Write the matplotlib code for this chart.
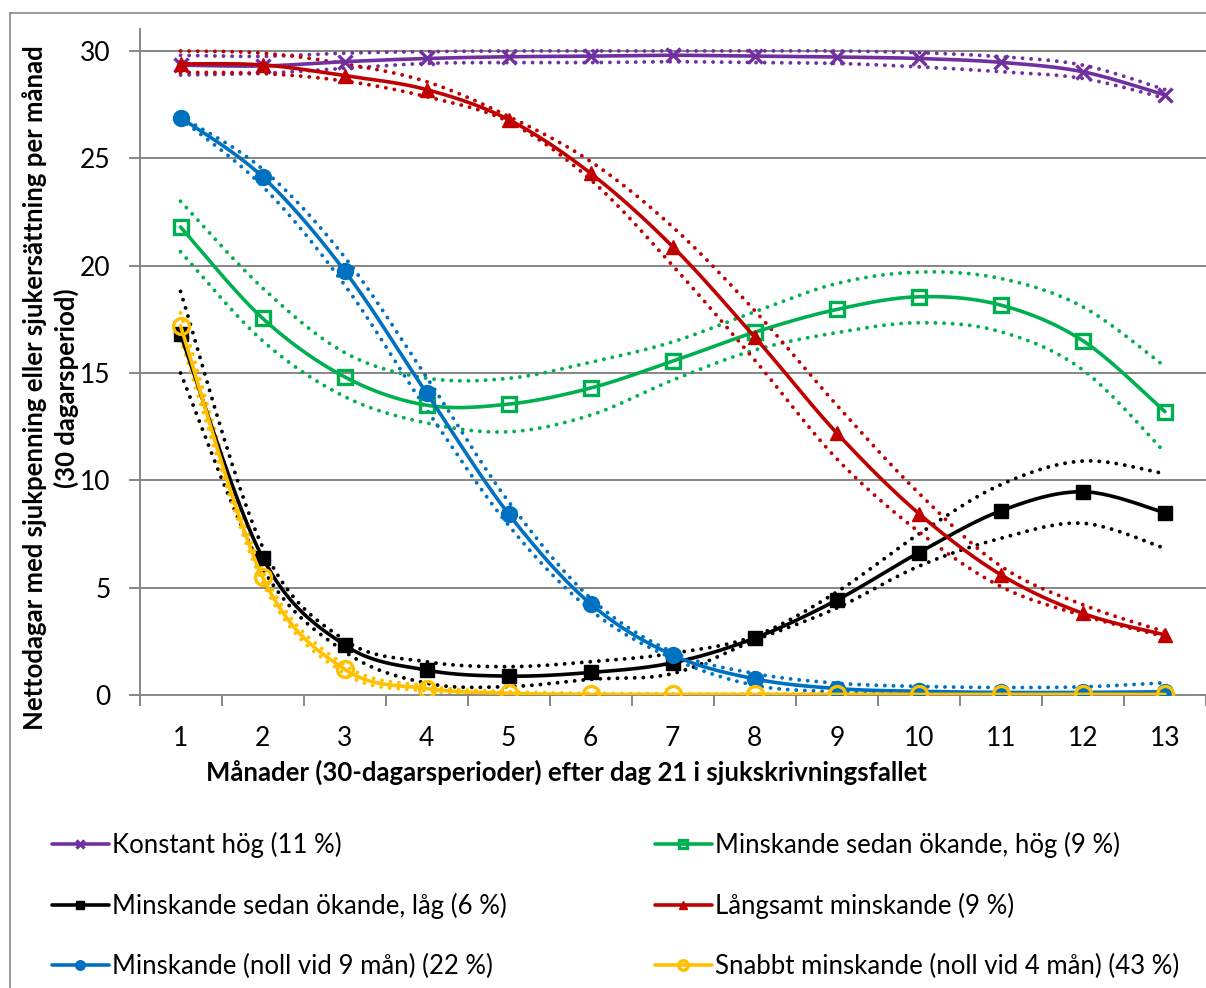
import numpy as np
import matplotlib
matplotlib.use("Agg")
import matplotlib.pyplot as plt
from matplotlib.lines import Line2D

plt.rcParams['font.family'] = ['Lato', 'DejaVu Sans']

months = list(range(1, 14))
month_labels = [str(m) for m in months]

labels = [
    "Konstant hög (11 %)",
    "Minskande sedan ökande, hög (9 %)",
    "Minskande sedan ökande, låg (6 %)",
    "Långsamt minskande (9 %)",
    "Minskande (noll vid 9 mån) (22 %)",
    "Snabbt minskande (noll vid 4 mån) (43 %)",
]

konstant = [29.34, 29.3, 29.5, 29.65, 29.73, 29.76, 29.8, 29.76, 29.72, 29.65, 29.47, 29.03, 27.95]
konstant_up = [29.8, 29.75, 29.9, 29.97, 30.0, 30.0, 30.0, 30.0, 30.0, 29.92, 29.73, 29.34, 28.2]
konstant_lo = [28.88, 28.96, 29.19, 29.42, 29.46, 29.46, 29.5, 29.46, 29.42, 29.26, 29.03, 28.72, 27.8]

okande_hog = [21.8, 17.55, 14.82, 13.5, 13.55, 14.3, 15.55, 16.9, 17.96, 18.55, 18.16, 16.5, 13.2]
okande_hog_up = [23.0, 18.96, 15.95, 14.76, 14.75, 15.5, 16.45, 17.85, 19.17, 19.7, 19.4, 18.08, 15.3]
okande_hog_lo = [20.65, 16.5, 13.9, 12.67, 12.26, 13.04, 14.67, 16.07, 16.88, 17.34, 16.92, 15.14, 11.3]

okande_lag = [16.8, 6.4, 2.33, 1.16, 0.88, 1.05, 1.5, 2.65, 4.42, 6.63, 8.58, 9.47, 8.49]
okande_lag_up = [18.8, 6.9, 2.56, 1.55, 1.32, 1.55, 1.94, 2.75, 4.8, 7.5, 9.8, 10.9, 10.3]
okande_lag_lo = [15.0, 5.9, 2.02, 0.55, 0.39, 0.73, 1.0, 2.55, 4.05, 6.0, 7.3, 8.0, 6.83]

langsamt = [29.4, 29.35, 28.85, 28.2, 26.8, 24.3, 20.88, 16.67, 12.2, 8.45, 5.6, 3.8, 2.8]
langsamt_up = [30.0, 29.9, 29.4, 28.57, 26.95, 24.85, 21.8, 17.9, 13.5, 9.4, 6.0, 4.2, 2.95]
langsamt_lo = [29.0, 28.95, 28.6, 27.87, 26.7, 24.0, 20.0, 15.6, 11.0, 7.6, 5.05, 3.7, 2.72]

minsk9 = [26.9, 24.14, 19.76, 14.06, 8.43, 4.24, 1.86, 0.75, 0.3, 0.17, 0.12, 0.12, 0.15]
minsk9_up = [26.95, 24.5, 20.4, 14.8, 9.0, 4.5, 2.0, 1.0, 0.55, 0.4, 0.35, 0.38, 0.57]
minsk9_lo = [26.85, 23.7, 19.1, 13.3, 7.9, 3.95, 1.7, 0.45, 0.15, 0.05, 0.03, 0.03, 0.0]

snabbt = [17.2, 5.5, 1.2, 0.3, 0.08, 0.03, 0.03, 0.03, 0.03, 0.03, 0.03, 0.03, 0.03]
snabbt_up = [17.8, 5.8, 1.4, 0.42, 0.15, 0.08, 0.06, 0.06, 0.06, 0.06, 0.06, 0.06, 0.06]
snabbt_lo = [16.6, 5.25, 1.0, 0.2, 0.03, 0.0, 0.0, 0.0, 0.0, 0.0, 0.0, 0.0, 0.0]

series = [
    (konstant, konstant_up, konstant_lo, '#7030A0', 'x', 10, 'full'),
    (okande_hog, okande_hog_up, okande_hog_lo, '#00B050', 's', 10, 'none'),
    (okande_lag, okande_lag_up, okande_lag_lo, '#000000', 's', 9.5, 'full'),
    (langsamt, langsamt_up, langsamt_lo, '#C00000', '^', 10.5, 'full'),
    (minsk9, minsk9_up, minsk9_lo, '#0070C0', 'o', 11.5, 'full'),
    (snabbt, snabbt_up, snabbt_lo, '#FFC000', 'o', 11.5, 'none'),
]

N = 24


def smooth(x, y, n=N):
    """Excel-style smoothed line (Bezier through the points)."""
    pts = np.column_stack([x, y]).astype(float)
    P = np.vstack([pts[0], pts, pts[-1]])
    out = []
    for i in range(len(pts) - 1):
        p0, p1, p2, p3 = P[i], P[i + 1], P[i + 2], P[i + 3]
        c1 = p1 + (p2 - p0) / 6.0
        c2 = p2 - (p3 - p1) / 6.0
        last = (i == len(pts) - 2)
        t = np.linspace(0, 1, n + 1 if last else n, endpoint=last)[:, None]
        b = (1 - t) ** 3 * p1 + 3 * (1 - t) ** 2 * t * c1 + 3 * (1 - t) * t ** 2 * c2 + t ** 3 * p2
        out.append(b)
    s = np.vstack(out)
    return s[:, 0], s[:, 1]


W, H = 1206, 988
fig = plt.figure(figsize=(W / 100, H / 100), dpi=100)
ax_left, ax_right = 139.5, 1206
ax_top, ax_bottom = 29.5, 695
ax = fig.add_axes([ax_left / W, 1 - ax_bottom / H, (ax_right - ax_left) / W, (ax_bottom - ax_top) / H])

ax.set_xlim(0.5, 0.5 + (ax_right - ax_left) / 83.08)
ax.set_ylim(0, 31)

grid_c = '#868686'
for s in ['top', 'right']:
    ax.spines[s].set_visible(False)
for s in ['left', 'bottom']:
    ax.spines[s].set_color(grid_c)
    ax.spines[s].set_linewidth(1.4)

ax.set_yticks([0, 5, 10, 15, 20, 25, 30])
ax.set_yticklabels(['0', '5', '10', '15', '20', '25', '30'])
ax.yaxis.grid(True, color=grid_c, linewidth=1.4)
ax.set_axisbelow(True)
ax.tick_params(axis='y', length=8, width=1.4, color=grid_c, pad=13, labelsize=19)

ax.set_xticks(months)
ax.set_xticklabels(month_labels)
ax.set_xticks([m - 0.5 for m in months] + [13.5], minor=True)
ax.tick_params(axis='x', which='major', length=0, pad=22, labelsize=19)
ax.tick_params(axis='x', which='minor', length=8, width=1.4, color=grid_c)

dot = (0, (0.01, 2.2))
# confidence bands (dotted)
for vals, up, lo, col, mk, ms, fill in series:
    for band in (up, lo):
        sx, sy = smooth(months, band)
        ax.plot(sx, sy, color=col, linewidth=2.8, linestyle=dot,
                dash_capstyle='round', zorder=2)

handles = []
for vals, up, lo, col, mk, ms, fill in series:
    sx, sy = smooth(months, vals)
    mfc = col if fill == 'full' else 'none'
    h, = ax.plot(sx, sy, color=col, linewidth=2.6, marker=mk, markersize=ms,
                 markevery=[i * N for i in range(len(months))],
                 markerfacecolor=mfc, markeredgecolor=col,
                 markeredgewidth=2.4 if mk in ('x',) or fill == 'none' else 1.0,
                 zorder=3, solid_capstyle='round')
    handles.append(h)

# axis titles
fig.text(35 / W, 1 - 388 / H, "Nettodagar med sjukpenning eller sjukersättning per månad",
         rotation=90, ha='center', va='center', fontsize=18.5, fontweight='bold')
fig.text(66 / W, 1 - 388 / H, "(30 dagarsperiod)",
         rotation=90, ha='center', va='center', fontsize=18.5, fontweight='bold')
fig.text(566 / W, 1 - 772 / H,
         "Månader (30-dagarsperioder) efter dag 21 i sjukskrivningsfallet",
         ha='center', va='center', fontsize=18.5, fontweight='bold')

# legend (two columns, three rows)
pos = [(52, 845), (655, 845), (52, 906), (655, 906), (52, 966), (655, 966)]
for h, lab, (px, py) in zip(handles, labels, pos):
    fig.legend(handles=[h], labels=[lab], loc='center left',
               bbox_to_anchor=(px / W, 1 - py / H), frameon=False,
               borderpad=0, borderaxespad=0, handlelength=2.2,
               handletextpad=0.12, fontsize=18.5, markerscale=0.6, numpoints=1)

# outer chart border (left and top visible)
fig.add_artist(Line2D([10 / W, 10 / W], [0, 1 - 13 / H], color=grid_c, linewidth=1.2))
fig.add_artist(Line2D([10 / W, 1], [1 - 13 / H, 1 - 13 / H], color=grid_c, linewidth=1.2))

fig.savefig('out.png', dpi=100)
